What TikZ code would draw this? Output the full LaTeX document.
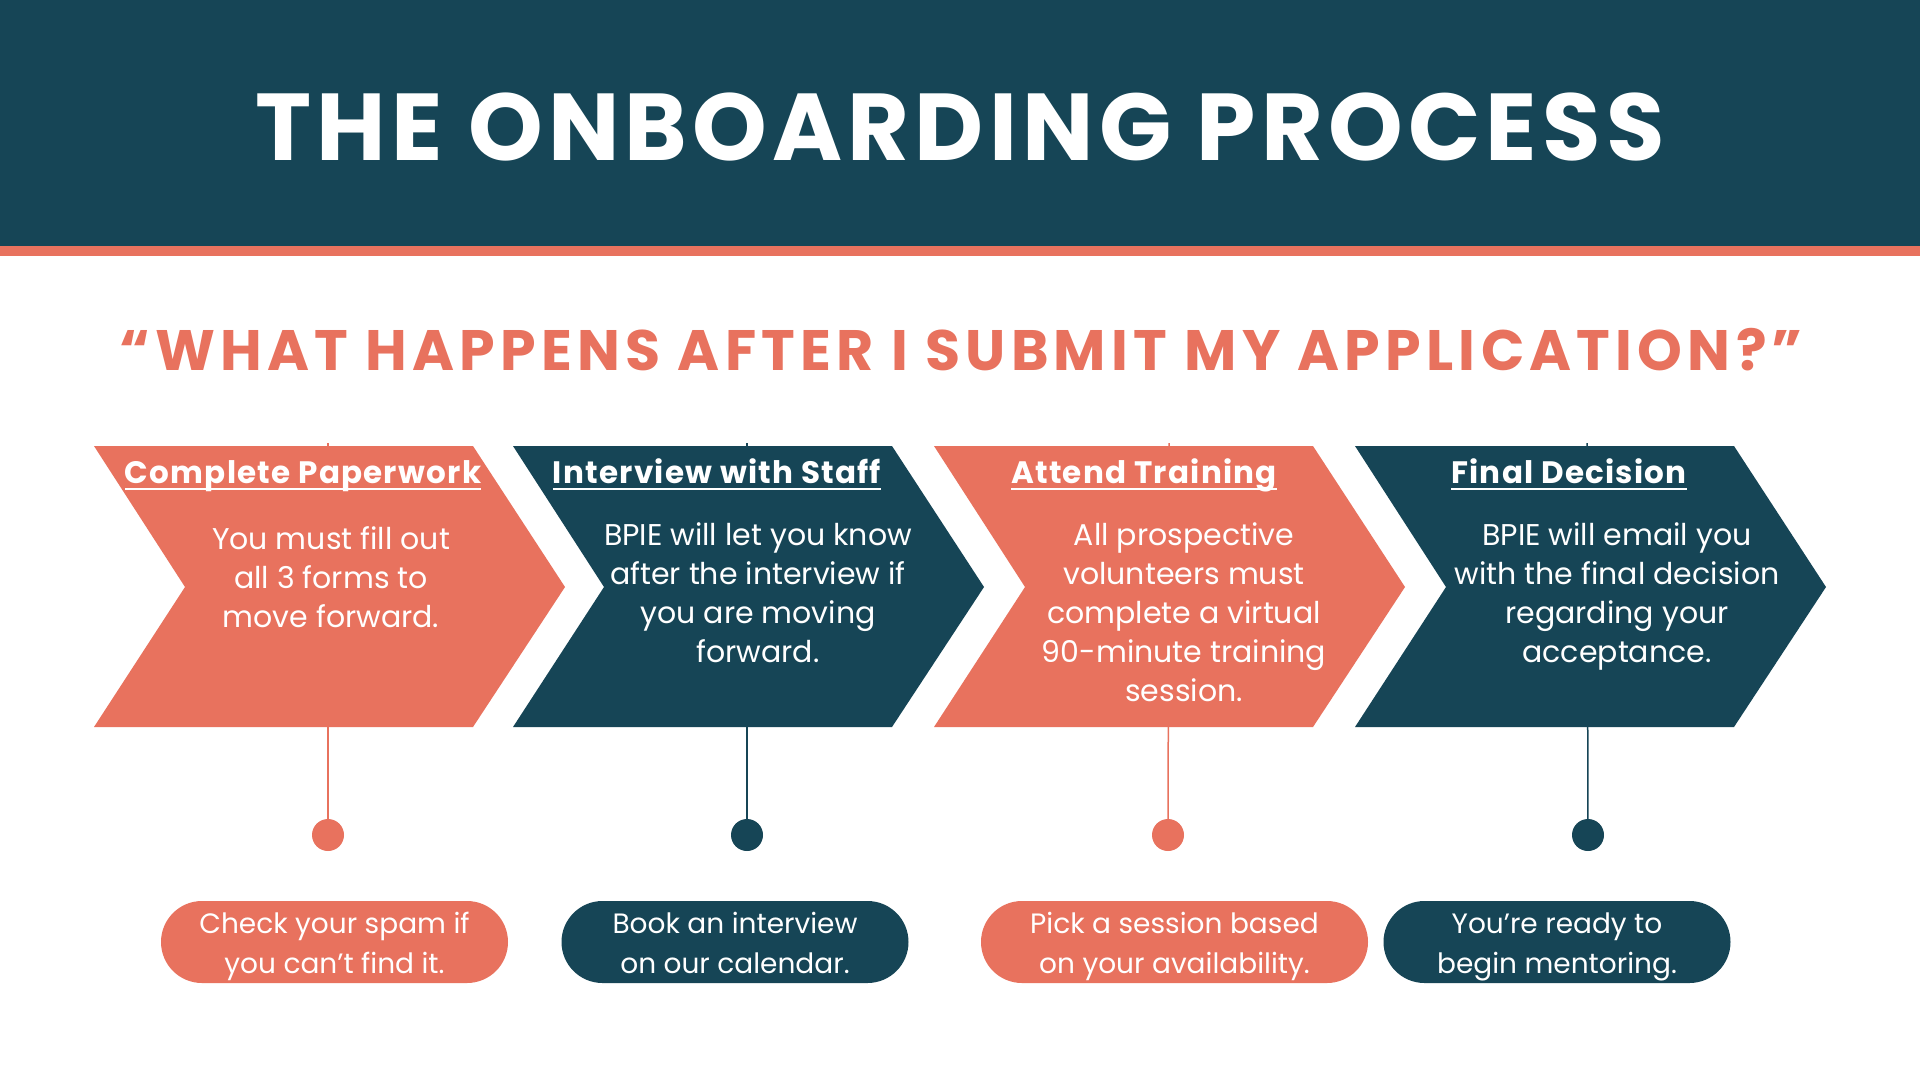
\documentclass[tikz,border=0pt]{standalone}
\usepackage{fontspec}
\usepackage{tikz}
\usetikzlibrary{positioning}
\newfontfamily\titlefont{Poppins}[LetterSpace=5.5]
\newfontfamily\askfont{Poppins}[LetterSpace=9.2]
\newfontfamily\headfont{Poppins}[LetterSpace=4]
\newfontfamily\bodyfont{Poppins}
\definecolor{mynavy}{RGB}{22,69,86}
\definecolor{mycoral}{RGB}{232,114,94}
\newcommand\ulhead[1]{\setbox0\hbox{#1}\rlap{\rule[-7pt]{\wd0}{2.5pt}}\box0}
\tikzset{
  bigtitle/.style={font=\titlefont\bfseries\fontsize{95}{110}\selectfont, text=white, inner sep=0pt},
  subtitle/.style={font=\askfont\bfseries\fontsize{57}{70}\selectfont, text=mycoral, inner sep=0pt},
  steptitle/.style={font=\headfont\bfseries\fontsize{31}{36}\selectfont, text=white,
    anchor=base, inner sep=0pt},
  stepbody/.style={font=\bodyfont\fontsize{30}{39}\selectfont, text=white,
    align=center, anchor=north, inner sep=0pt},
  pill/.style={rectangle, rounded corners=41pt, minimum width=347pt, minimum height=82pt,
    inner sep=0pt},
  notetext/.style={text=white, align=center, inner sep=0pt,
    font=\bodyfont\fontsize{28}{40}\selectfont,
    execute at begin node=\strut, execute at end node=\strut},
  pindot/.style={circle, minimum size=32pt, inner sep=0pt},
  stem/.style={line width=1.5pt}
}

\begin{document}
\begin{tikzpicture}[x=1pt, y=-1pt]
  \useasboundingbox (0,0) rectangle (1920,1080);
  \fill[white] (0,0) rectangle (1920,1080);
  % Header
  \fill[mynavy] (0,0) rectangle (1920,246);
  \fill[mycoral] (0,246) rectangle (1920,256);
  \node[bigtitle] (title) at (960,127) {THE ONBOARDING PROCESS};
  \node[subtitle] (question) at (961,350) {“WHAT HAPPENS AFTER I SUBMIT MY APPLICATION?”};
  % Dots
  \node[pindot, fill=mycoral] (dot1) at (328,835) {};
  \node[pindot, fill=mynavy]  (dot2) at (747,835) {};
  \node[pindot, fill=mycoral] (dot3) at (1168,835) {};
  \node[pindot, fill=mynavy]  (dot4) at (1588,835) {};
  % Stems
  \coordinate (top1) at (328,443);
  \coordinate (top2) at (747,443);
  \coordinate (top3) at (1169,443);
  \coordinate (top4) at (1587,443);
  \draw[stem, mycoral] (top1) -- (dot1);
  \draw[stem, mynavy]  (top2) -- (dot2);
  \draw[stem, mycoral] (top3) -- (dot3);
  \draw[stem, mynavy]  (top4) -- (dot4);
  % Chevrons
  \fill[mycoral] (94,446) -- (473,446) -- (565,587) -- (473,727) -- (94,727) -- (185,587) -- cycle;
  \fill[mynavy] (513,446) -- (892,446) -- (984,587) -- (892,727) -- (513,727) -- (604,587) -- cycle;
  \fill[mycoral] (934,446) -- (1313,446) -- (1405,587) -- (1313,727) -- (934,727) -- (1025,587) -- cycle;
  \fill[mynavy] (1355,446) -- (1734,446) -- (1826,587) -- (1734,727) -- (1355,727) -- (1446,587) -- cycle;
  % Step titles
  \node[steptitle] (head1) at (303,483) {\ulhead{Complete Paperwork}};
  \node[steptitle] (head2) at (717,483) {\ulhead{Interview with Staff}};
  \node[steptitle] (head3) at (1144,483) {\ulhead{Attend Training}};
  \node[steptitle] (head4) at (1569,483) {\ulhead{Final Decision}};
  % Step texts
  \node[stepbody] (body1) at (331,526.5) {You must fill out\\all 3 forms to\\move forward.};
  \node[stepbody] (body2) at (758,522.5) {BPIE will let you know\\after the interview if\\you are moving\\forward.};
  \node[stepbody] (body3) at (1184,522.5) {All prospective\\volunteers must\\complete a virtual\\90-minute training\\session.};
  \node[stepbody] (body4) at (1617,522.5) {BPIE will email you\\with the final decision\\regarding your\\acceptance.};
  % Notes
  \node[pill, fill=mycoral] (note1) at (334.5,942) {};
  \node[pill, fill=mynavy]  (note2) at (735,942) {};
  \node[pill, fill=mycoral, minimum width=387pt] (note3) at (1174.5,942) {};
  \node[pill, fill=mynavy]  (note4) at (1557,942) {};
  \node[notetext] (text1) at ([yshift=-7pt]note1.center) {Check your spam if\\you can’t find it.};
  \node[notetext] (text2) at ([yshift=-7pt]note2.center) {Book an interview\\on our calendar.};
  \node[notetext] (text3) at ([yshift=-7pt]note3.center) {Pick a session based\\on your availability.};
  \node[notetext] (text4) at ([yshift=-7pt]note4.center) {You’re ready to\\begin mentoring.};
\end{tikzpicture}
\end{document}
